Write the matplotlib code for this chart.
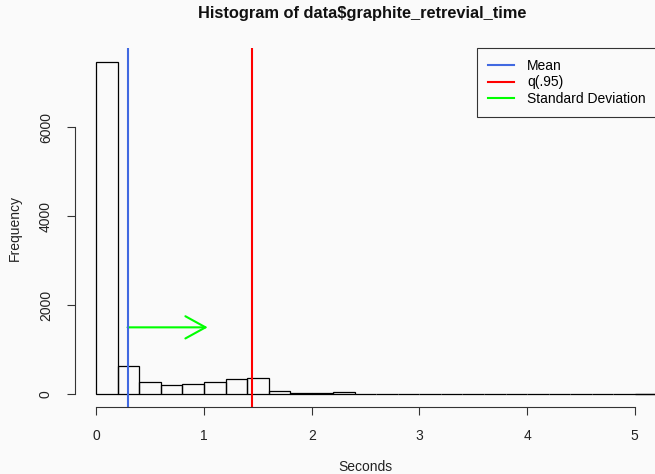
import numpy as np
import matplotlib
matplotlib.use("Agg")
import matplotlib.pyplot as plt
from matplotlib.patches import FancyArrowPatch, ArrowStyle
from matplotlib.lines import Line2D

# ---- data ----
bin_width = 0.2
counts = [7480, 640, 280, 205, 215, 270, 345, 370, 75, 22, 15, 40, 10,
          8, 6, 5, 4, 3, 3, 0, 0, 0, 2, 2, 0, 2, 1]
mean_val = 0.29
q95_val = 1.45
sd_val = 0.744
arrow_y = 1500
x_ticks = [0, 1, 2, 3, 4, 5]
y_ticks = [0, 2000, 4000, 6000]
title = "Histogram of data$graphite_retrevial_time"
xlabel = "Seconds"
ylabel = "Frequency"
legend_labels = ["Mean", "q(.95)", "Standard Deviation"]
legend_colors = ["#4169E1", "#FF0000", "#00FF00"]

plt.rcParams['font.family'] = ['Liberation Sans', 'DejaVu Sans']
bg = '#fafafa'

W, H = 655, 474
fig = plt.figure(figsize=(W / 100, H / 100), dpi=100, facecolor=bg)
L, R, T, B = 74.8, 656.3, 48.3, 407.3
ax = fig.add_axes([L / W, 1 - B / H, (R - L) / W, (B - T) / H])
ax.set_facecolor(bg)
ax.patch.set_alpha(0)

lefts = np.arange(len(counts)) * bin_width
ax.bar(lefts, counts, width=bin_width, align='edge', fill=False,
       edgecolor='black', linewidth=0.9)

ymax = max(counts)
ax.set_xlim(-0.04 * 5, 5 + 0.04 * 5)
ax.set_ylim(-0.04 * ymax, 1.04 * ymax)

ax.axvline(mean_val, color=legend_colors[0], lw=1.5)
ax.axvline(q95_val, color=legend_colors[1], lw=1.5)

arr = FancyArrowPatch((mean_val, arrow_y), (mean_val + sd_val, arrow_y),
                      arrowstyle=ArrowStyle('->', head_length=1.45, head_width=0.8),
                      mutation_scale=10, color=legend_colors[2], lw=1.5,
                      shrinkA=0, shrinkB=0)
ax.add_patch(arr)

for s in ['top', 'right']:
    ax.spines[s].set_visible(False)
ax.spines['left'].set_bounds(0, 6000)
ax.spines['bottom'].set_bounds(0, 5)
for s in ['left', 'bottom']:
    ax.spines[s].set_linewidth(0.8)
    ax.spines[s].set_color('#333333')

ax.set_xticks(x_ticks)
ax.set_xticklabels([str(t) for t in x_ticks])
ax.set_yticks(y_ticks)
ax.set_yticklabels([str(t) for t in y_ticks], rotation=90, va='center')
ax.tick_params(axis='both', length=5.8, width=0.8, color='#333333',
               labelsize=10, labelcolor='#222222')
ax.tick_params(axis='x', pad=10)
ax.tick_params(axis='y', pad=10)

fig.text((L + R) / 2 / W - 3 / W, 1 - 13.5 / H, title, ha='center', va='center',
         fontsize=11.8, fontweight='bold', color='#111111')
fig.text((L + R) / 2 / W, 1 - 467 / H, xlabel, ha='center', va='center',
         fontsize=10, color='#222222')
fig.text(15 / W, 1 - 228 / H, ylabel, ha='center', va='center',
         fontsize=10, rotation=90, color='#222222')

handles = [Line2D([], [], color=c, lw=1.5) for c in legend_colors]
leg = ax.legend(handles, legend_labels, loc='upper right',
                bbox_to_anchor=(1, 1), borderaxespad=0, fancybox=False,
                edgecolor='#333333', facecolor=bg, framealpha=1,
                fontsize=10, handlelength=1.9, handletextpad=0.95,
                labelspacing=0.2, borderpad=0.75)
leg.get_frame().set_linewidth(0.8)

fig.savefig("out.png", dpi=100, facecolor=bg)
